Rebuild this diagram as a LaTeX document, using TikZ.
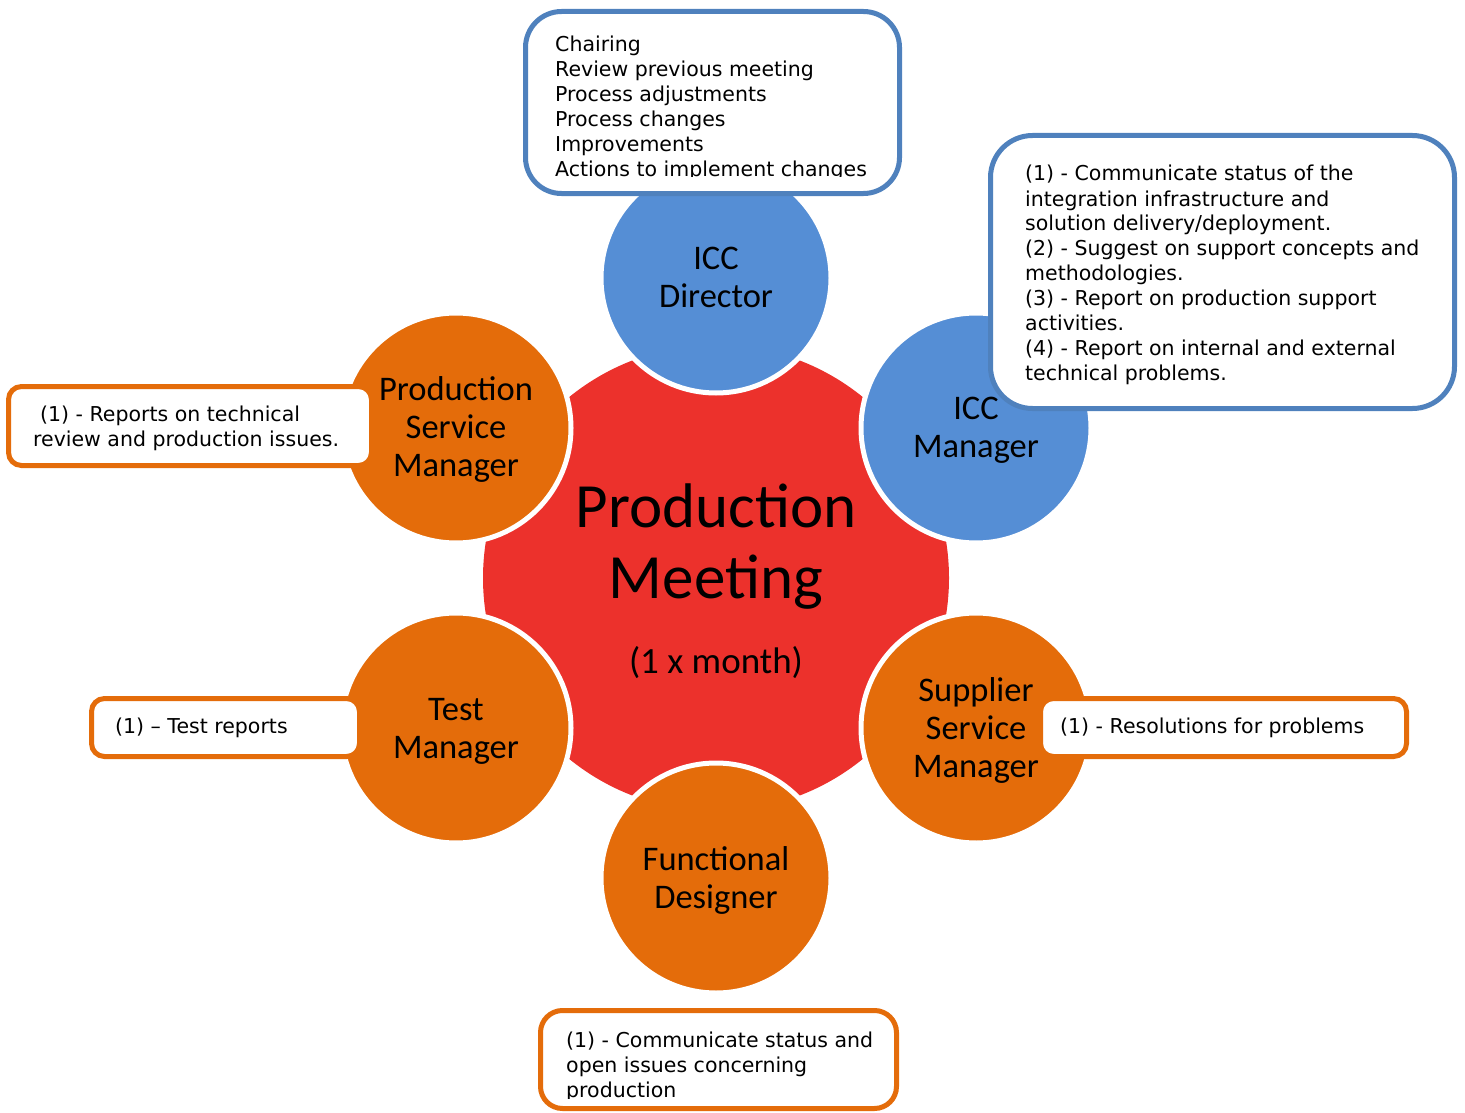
\documentclass[tikz,border=0pt]{standalone}
\usepackage{fontspec}
\setmainfont{DejaVu Sans}
\newfontfamily\calibfont{Carlito}
\definecolor{meetred}{RGB}{236,49,44}
\definecolor{roleblue}{RGB}{85,142,213}
\definecolor{roleorange}{RGB}{228,108,10}
\definecolor{boxblue}{RGB}{79,129,189}

\begin{document}
\begin{tikzpicture}[x=1pt,y=-1pt,
  role/.style={circle, minimum size=230pt, inner sep=0pt, draw=white, line width=5pt},
  bluerole/.style={role, fill=roleblue},
  orangerole/.style={role, fill=roleorange},
  rolename/.style={anchor=base, inner sep=0pt, font=\calibfont\fontsize{34.5}{38}\selectfont},
  notebox/.style={rectangle, rounded corners=#1, fill=white, line width=5pt, inner sep=0pt},
  notetext/.style={anchor=base west, inner sep=0pt, font=\fontsize{20.5}{25}\selectfont},
]
\useasboundingbox (0,0) rectangle (1465,1113);

% central meeting disc
\node[circle, fill=meetred, minimum size=466pt, inner sep=0pt] (meeting) at (716,578) {};
\node[anchor=base, inner sep=0pt, font=\calibfont\fontsize{63}{71}\selectfont] (meettitle) at (716,527)
  {\parbox[t]{400pt}{\centering Production\\Meeting}};
\node[anchor=base, inner sep=0pt, font=\calibfont\fontsize{37}{44}\selectfont] (meetfreq) at (716,673)
  {(1 x month)};

% participants around the meeting
\node[bluerole]   (director)   at (716,278) {};
\node[bluerole]   (iccmgr)     at (976,428) {};
\node[orangerole] (supplier)   at (976,728) {};
\node[orangerole] (functional) at (716,878) {};
\node[orangerole] (testmgr)    at (456,728) {};
\node[orangerole] (prodsvc)    at (456,428) {};

\node[rolename] (directorname)   at (716,269) {\parbox[t]{200pt}{\centering ICC\\Director}};
\node[rolename] (iccmgrname)     at (976,419) {\parbox[t]{200pt}{\centering ICC\\Manager}};
\node[rolename] (suppliername)   at (976,701) {\parbox[t]{200pt}{\centering Supplier\\Service\\Manager}};
\node[rolename] (functionalname) at (716,870) {\parbox[t]{200pt}{\centering Functional\\Designer}};
\node[rolename] (testmgrname)    at (456,720) {\parbox[t]{200pt}{\centering Test\\Manager}};
\node[rolename] (prodsvcname)    at (456,400) {\parbox[t]{200pt}{\centering Production\\Service\\Manager}};

% responsibility call-outs
\node[notebox=36, draw=boxblue, minimum width=374pt, minimum height=182pt] (dirbox) at (712.5,102.5) {};
\begin{scope}
  \clip (528,14) rectangle (897,177);
  \node[notetext] (dirtext) at (555,52) {\parbox[t]{340pt}{\raggedright
    Chairing\\Review previous meeting\\Process adjustments\\Process changes\\Improvements\\Actions to implement changes}};
\end{scope}

\node[notebox=42, draw=boxblue, minimum width=464pt, minimum height=273pt] (mgrbox) at (1222.5,272) {};
\node[notetext] (mgrtext) at (1025,181) {\parbox[t]{420pt}{\raggedright
  (1) - Communicate status of the\\integration infrastructure and\\solution delivery/deployment.\\
  (2) - Suggest on support concepts and\\methodologies.\\
  (3) - Report on production support\\activities.\\
  (4) - Report on internal and external\\technical problems.}};

\node[notebox=13, draw=roleorange, minimum width=363pt, minimum height=79pt] (psmbox) at (190,426) {};
\node[notetext] (psmtext) at (33,421) {\parbox[t]{330pt}{\raggedright
  \hspace*{7pt}(1) - Reports on technical\\review and production issues.}};

\node[notebox=13, draw=roleorange, minimum width=268pt, minimum height=58pt] (testbox) at (225.5,727.5) {};
\node[notetext] (testtext) at (115,733) {(1) – Test reports};

\node[notebox=13, draw=roleorange, minimum width=366pt, minimum height=58pt] (supbox) at (1223.5,727.5) {};
\node[notetext] (suptext) at (1060,733) {(1) - Resolutions for problems};

\node[notebox=22, draw=roleorange, minimum width=356pt, minimum height=98pt] (funcbox) at (718.5,1059.5) {};
\begin{scope}
  \clip (543,1013) rectangle (894,1098);
  \node[notetext] (functext) at (566,1047) {\parbox[t]{320pt}{\raggedright
    (1) - Communicate status and\\open issues concerning\\production}};
\end{scope}
\end{tikzpicture}
\end{document}
